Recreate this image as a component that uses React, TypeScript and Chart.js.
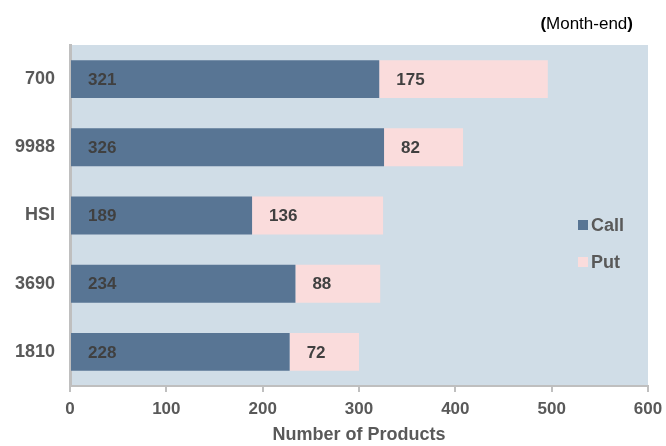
import React, { useEffect, useRef } from "react";
import { Chart, registerables } from "chart.js";

Chart.register(...registerables);

const categories = ["700", "9988", "HSI", "3690", "1810"];
const callValues = [321, 326, 189, 234, 228];
const putValues = [175, 82, 136, 88, 72];
const xTicks = [0, 100, 200, 300, 400, 500, 600];
const seriesNames = ["Call", "Put"];

const CALL_COLOR = "#587594";
const PUT_COLOR = "#fadcdc";
const BG_COLOR = "#d0dde7";
const TEXT = "#595959";
const LABEL = "#404040";
const FONT = "Liberation Sans, Arial, sans-serif";

export default function App() {
  const ref = useRef<HTMLCanvasElement | null>(null);

  useEffect(() => {
    const canvas = ref.current;
    if (!canvas) return;

    const bgPlugin = {
      id: "bg",
      beforeDraw(chart: any) {
        const { ctx, chartArea } = chart;
        ctx.save();
        ctx.fillStyle = BG_COLOR;
        ctx.fillRect(chartArea.left, chartArea.top, chartArea.right - chartArea.left, chartArea.bottom - chartArea.top);
        ctx.restore();
      },
    };

    const labelPlugin = {
      id: "labels",
      afterDatasetsDraw(chart: any) {
        const { ctx } = chart;
        ctx.save();
        ctx.font = `bold 17px ${FONT}`;
        ctx.fillStyle = LABEL;
        ctx.textAlign = "left";
        ctx.textBaseline = "middle";
        chart.data.datasets.forEach((ds: any, di: number) => {
          const meta = chart.getDatasetMeta(di);
          meta.data.forEach((bar: any, i: number) => {
            const start = Math.min(bar.base, bar.x);
            ctx.fillText(String(ds.data[i]), start + 17, bar.y + 1);
          });
        });
        // legend
        const lx = 578;
        const items = [
          { name: seriesNames[0], color: CALL_COLOR, y: 225 },
          { name: seriesNames[1], color: PUT_COLOR, y: 262 },
        ];
        items.forEach((it) => {
          ctx.fillStyle = it.color;
          ctx.fillRect(lx, it.y - 5, 10, 10);
          ctx.fillStyle = TEXT;
          ctx.font = `bold 18px ${FONT}`;
          ctx.fillText(it.name, lx + 13, it.y + 1);
        });
        ctx.restore();
      },
    };

    const chart = new Chart(canvas, {
      type: "bar",
      data: {
        labels: categories,
        datasets: [
          {
            label: seriesNames[0],
            data: callValues,
            backgroundColor: CALL_COLOR,
            barPercentage: 0.555,
            categoryPercentage: 1,
          },
          {
            label: seriesNames[1],
            data: putValues,
            backgroundColor: PUT_COLOR,
            barPercentage: 0.555,
            categoryPercentage: 1,
          },
        ],
      },
      options: {
        indexAxis: "y",
        animation: false,
        responsive: false,
        maintainAspectRatio: false,
        layout: { padding: { top: 45, right: 18, left: 0, bottom: 0 } },
        plugins: {
          legend: { display: false },
          tooltip: { enabled: false },
        },
        scales: {
          x: {
            stacked: true,
            min: 0,
            max: 600,
            afterFit(scale: any) {
              scale.height = 60;
              scale.paddingRight = 0;
            },
            afterBuildTicks(scale: any) {
              scale.ticks = xTicks.map((v) => ({ value: v }));
            },
            border: { display: true, color: "#bfbfbf", width: 2 },
            grid: {
              drawOnChartArea: false,
              drawTicks: true,
              tickLength: 6,
              color: "#bfbfbf",
              lineWidth: 2,
            },
            ticks: {
              color: TEXT,
              font: { family: FONT, size: 17, weight: "bold" },
              padding: 7,
              maxRotation: 0,
            },
            title: {
              display: true,
              text: "Number of Products",
              color: TEXT,
              font: { family: FONT, size: 18, weight: "bold" },
              padding: { top: 4, bottom: 0 },
            },
          },
          y: {
            stacked: true,
            afterFit(scale: any) {
              scale.width = 70;
            },
            border: { display: true, color: "#bfbfbf", width: 3 },
            grid: { display: false, drawTicks: false },
            ticks: {
              color: TEXT,
              font: { family: FONT, size: 18, weight: "bold" },
              padding: 15,
            },
          },
        },
      },
      plugins: [bgPlugin, labelPlugin],
    } as any);

    return () => chart.destroy();
  }, []);

  return (
    <div style={{ position: "fixed", left: 0, top: 0, width: 666, height: 446, background: "#fff" }}>
      <canvas ref={ref} width={666} height={446} style={{ display: "block", width: 666, height: 446 }} />
      <div
        style={{
          position: "absolute",
          right: 33,
          top: 13,
          fontFamily: FONT,
          fontSize: 17,
          color: "#000",
          lineHeight: "21px",
          whiteSpace: "nowrap",
        }}
      >
        <b>(</b>Month-end<b>)</b>
      </div>
    </div>
  );
}
